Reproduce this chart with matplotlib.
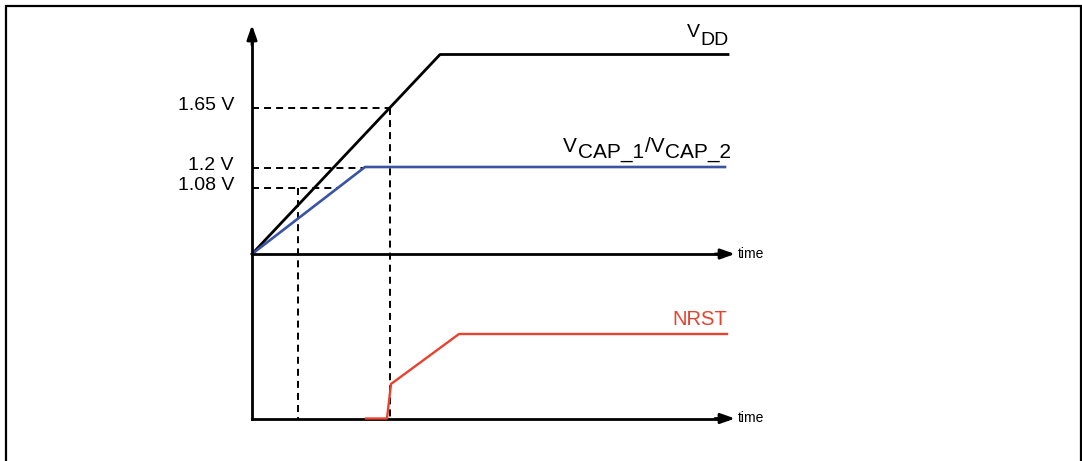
import matplotlib
matplotlib.use("Agg")
import matplotlib.pyplot as plt
from matplotlib.patches import Rectangle
from matplotlib import transforms

plt.rcParams['font.family'] = ['Liberation Sans', 'DejaVu Sans']

# ---- data (schematic units: time in arbitrary ticks, signal levels in arbitrary units) ----
vdd_time = [0, 188, 476]
vdd_level = [0, 199.5, 199.5]
vcap_time = [0, 113, 473]
vcap_level = [0, 87, 87]
nrst_time = [114, 135, 139, 207, 475]
nrst_level = [0, 0, 34.5, 84.5, 84.5]

level_labels = ["1.65 V", "1.2 V", "1.08 V"]
level_values = [146, 86, 66]
level_reach = [138, 111, 86]      # time where each dashed level guide stops
marker_times = [138, 45.5]         # dashed time markers
marker_levels = [146, 66]          # level where each marker starts

time_end = 483
level_top = 229
nrst_base = -164.5

BLUE = '#3A53A4'
RED = '#E8412E'

fig = plt.figure(figsize=(10.82, 4.61), dpi=100)
ax = fig.add_axes([0, 0, 1, 1])
ax.set_xlim(-252, 830)
ax.set_ylim(-207, 254)
ax.axis('off')

# outer frame (bottom edge lies outside the picture)
fig.patches.append(Rectangle((5.5 / 1082, -0.1), (1081 - 5.5) / 1082, 1.1 - 6.5 / 461,
                             transform=fig.transFigure, fill=False, lw=1.6, ec='black'))

AX_LW = 2.0


def arrow(x0, y0, x1, y1):
    ax.annotate('', xy=(x1, y1), xytext=(x0, y0),
                arrowprops=dict(arrowstyle='-|>,head_length=0.85,head_width=0.3',
                                lw=AX_LW, color='k', shrinkA=0, shrinkB=0,
                                mutation_scale=10), zorder=5)


# axes
ax.plot([0, 0], [nrst_base, level_top - 8], color='k', lw=AX_LW, solid_capstyle='projecting', zorder=5)
arrow(0, level_top - 20, 0, level_top)
for base in (0, nrst_base):
    ax.plot([0, time_end - 8], [base, base], color='k', lw=AX_LW, solid_capstyle='projecting', zorder=5)
    arrow(time_end - 20, base, time_end, base)
    ax.text(time_end + 3, base - 3.5, "time", fontsize=10, ha='left', va='baseline')

# dashed guides
DASH = dict(color='k', lw=1.4, dashes=(3.6, 2.6), zorder=2)
for lbl, val, reach in zip(level_labels, level_values, level_reach):
    ax.plot([0, reach], [val, val], **DASH)
    ax.text(-18, val + 2, lbl, fontsize=14, ha='right', va='center')
for t, lvl in zip(marker_times, marker_levels):
    ax.plot([t, t], [lvl, nrst_base], **DASH)

# signals
ax.plot(vdd_time, vdd_level, color='k', lw=2.0, zorder=4)
ax.plot(vcap_time, vcap_level, color=BLUE, lw=1.9, zorder=4)
ax.plot(nrst_time, [nrst_base + v for v in nrst_level], color=RED, lw=1.7, zorder=6)

renderer = fig.canvas.get_renderer()


def piece_label(x, y, pieces, color, size):
    dx = 0.0
    for s, dy in pieces:
        tr = ax.transData + transforms.ScaledTranslation(dx / 72, dy * 0.72 / 72, fig.dpi_scale_trans)
        t = ax.text(x, y, s, color=color, fontsize=size, va='baseline', ha='left', transform=tr)
        bb = t.get_window_extent(renderer)
        dx += bb.width * 72 / fig.dpi + 0.6


piece_label(435, 217, [("V", 0), ("DD", -8)], 'k', 14)
piece_label(311, 102, [("V", 0), ("CAP_1", -6), ("/V", 0), ("CAP_2", -6)], 'k', 15)
ax.text(475, -70.5, "NRST", color=RED, fontsize=14.5, ha='right', va='baseline')

fig.savefig("out.png", dpi=100)
